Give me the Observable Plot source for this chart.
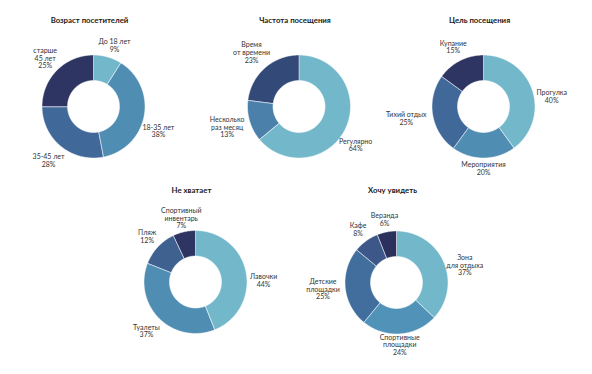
<!DOCTYPE html>
<html><head><meta charset="utf-8">
<script src="https://cdn.jsdelivr.net/npm/d3@7"></script>
<script src="https://cdn.jsdelivr.net/npm/@observablehq/plot@0.6"></script>
<style>
body{margin:0;background:#fff}
#chart{width:592px;height:374px}
</style>
</head><body><div id="chart"></div>
<script>
// ---- data ----
const titles = ["Возраст посетителей", "Частота посещения", "Цель посещения", "Не хватает", "Хочу увидеть"];

const ageCategories = ["До 18 лет", "18-35 лет", "35-45 лет", "старше\n45 лет"];
const ageValues = [9, 38, 28, 25];

const freqCategories = ["Регулярно", "Несколько\nраз месяц", "Время\nот времени"];
const freqValues = [64, 13, 23];

const purposeCategories = ["Прогулка", "Мероприятия", "Тихий отдых", "Купание"];
const purposeValues = [40, 20, 25, 15];

const lackCategories = ["Лавочки", "Туалеты", "Пляж", "Спортивный\nинвентарь"];
const lackValues = [44, 37, 12, 7];

const wishCategories = ["Зона\nдля отдыха", "Спортивные\nплощадки", "Детские\nплощадки", "Кафе", "Веранда"];
const wishValues = [37, 24, 25, 8, 6];

// ---- layout & style ----
const W = 592, H = 374, R = 51.5, r0 = 26;
const C1 = "#73b7ca", C2 = "#4f8db3", C3 = "#40699a", C4 = "#2e3562";
const charts = [
  {title: titles[0], cats: ageCategories, vals: ageValues, colors: [C1, C2, C3, C4], cx: 93, cy: 106, ty: 20},
  {title: titles[1], cats: freqCategories, vals: freqValues, colors: [C1, "#4a80a9", "#334a79"], cx: 298.5, cy: 106, ty: 20},
  {title: titles[2], cats: purposeCategories, vals: purposeValues, colors: [C1, C2, C3, C4], cx: 483, cy: 106, ty: 20},
  {title: titles[3], cats: lackCategories, vals: lackValues, colors: [C1, C2, "#3e6190", C4], cx: 195, cy: 281.5, ty: 190},
  {title: titles[4], cats: wishCategories, vals: wishValues, colors: [C1, "#5193b8", "#416e9d", "#3c5788", "#2b305c"], cx: 396, cy: 282, ty: 190}
];

const arcPts = [], labels = [], heads = [];
charts.forEach((c, ci) => {
  const total = d3.sum(c.vals);
  let acc = 0;
  c.vals.forEach((v, i) => {
    const a0 = acc / total * 2 * Math.PI, a1 = (acc + v) / total * 2 * Math.PI;
    acc += v;
    const key = ci + "-" + i, color = c.colors[i];
    const n = Math.max(2, Math.ceil((a1 - a0) / (Math.PI / 180)) + 1);
    for (let k = 0; k < n; k++) {
      const a = a0 + (a1 - a0) * k / (n - 1);
      arcPts.push({key, color, x: c.cx + R * Math.sin(a), y: c.cy - R * Math.cos(a)});
    }
    for (let k = n - 1; k >= 0; k--) {
      const a = a0 + (a1 - a0) * k / (n - 1);
      arcPts.push({key, color, x: c.cx + r0 * Math.sin(a), y: c.cy - r0 * Math.cos(a)});
    }
    let am = (a0 + a1) / 2;
    const s = Math.sin(am);
    if (s > 0) am += (10 * Math.PI / 180) * s;
    const lines = c.cats[i].split("\n");
    const hw = d3.max(lines, t => t.length) * 1.75;
    const rl = 62 + (s > 0 ? 0.5 : 0.85) * hw * Math.abs(Math.sin(am));
    labels.push({x: c.cx + rl * Math.sin(am), y: c.cy - rl * Math.cos(am), text: c.cats[i] + "\n" + v + "%"});
  });
  heads.push({x: c.cx - 4, y: c.ty, text: c.title});
});

const plot = Plot.plot({
  width: W, height: H,
  margin: 0,
  x: {domain: [0, W], range: [0, W], axis: null},
  y: {domain: [0, H], range: [0, H], axis: null},
  color: {type: "identity"},
  style: {fontFamily: "Lato, 'Noto Sans', sans-serif", background: "#fff", color: "#2b2b2b"},
  marks: [
    Plot.line(arcPts, {x: "x", y: "y", z: "key", fill: "color", stroke: "#fff", strokeWidth: 0.5, curve: "linear-closed"}),
    Plot.text(labels, {x: "x", y: "y", text: "text", fontSize: 7, lineHeight: 1.08, fill: "#333", textAnchor: "middle"}),
    Plot.text(heads, {x: "x", y: "y", text: "text", fontSize: 7.8, fontWeight: "bold", fill: "#1a1a1a"})
  ]
});
document.getElementById("chart").appendChild(plot);
</script>
</body></html>
